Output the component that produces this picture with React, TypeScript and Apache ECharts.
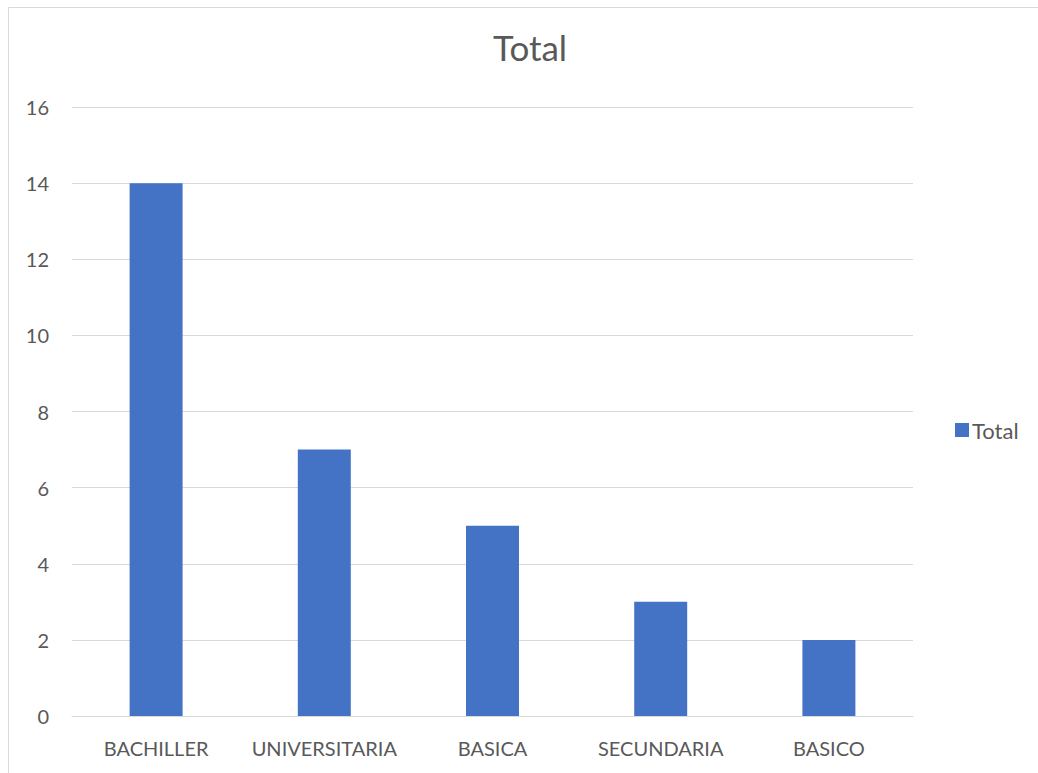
import React, { useEffect, useRef } from "react";
import * as echarts from "echarts";

const categories = ["BACHILLER", "UNIVERSITARIA", "BASICA", "SECUNDARIA", "BASICO"];
const totals = [14, 7, 5, 3, 2];
const seriesName = "Total";

const FONT = "Lato, 'Noto Sans', sans-serif";
const TEXT = "#595959";

export default function App() {
  const ref = useRef<HTMLDivElement>(null);

  useEffect(() => {
    if (!ref.current) return;
    const chart = echarts.init(ref.current, undefined, { renderer: "svg" });
    chart.setOption({
      animation: false,
      backgroundColor: "#ffffff",
      textStyle: { fontFamily: FONT },
      title: {
        text: "Total",
        left: 493,
        top: 29,
        padding: 0,
        itemGap: 0,
        textStyle: { fontFamily: FONT, fontSize: 35, fontWeight: "normal", color: TEXT },
      },
      graphic: [
        {
          type: "polyline",
          shape: { points: [[8.5, 900], [8.5, 7.5], [1100, 7.5]] },
          style: { stroke: "#d9d9d9", lineWidth: 1, fill: "none" },
          silent: true,
        },
      ],
      legend: {
        data: [seriesName],
        left: 955,
        top: 419,
        padding: 0,
        itemWidth: 14,
        itemHeight: 14,
        itemGap: 6,
        icon: "rect",
        textStyle: { fontFamily: FONT, fontSize: 22, color: TEXT, padding: [0, 0, 0, -2] },
      },
      grid: { left: 72, right: 125, top: 107, bottom: 57 },
      xAxis: {
        type: "category",
        data: categories,
        axisTick: { show: false },
        axisLine: { lineStyle: { color: "#d9d9d9", width: 1 } },
        axisLabel: { fontFamily: FONT, fontSize: 20, color: TEXT, margin: 22, interval: 0 },
      },
      yAxis: {
        type: "value",
        min: 0,
        max: 16,
        interval: 2,
        axisLine: { show: false },
        axisTick: { show: false },
        splitLine: { lineStyle: { color: "#d9d9d9", width: 1 } },
        axisLabel: { fontFamily: FONT, fontSize: 20, color: TEXT, margin: 23 },
      },
      series: [
        {
          name: seriesName,
          type: "bar",
          data: totals,
          barWidth: "31.5%",
          itemStyle: { color: "#4472c4" },
        },
      ],
    });
    return () => chart.dispose();
  }, []);

  return (
    <div
      ref={ref}
      style={{ position: "fixed", left: 0, top: 0, width: 1038, height: 773 }}
    />
  );
}
